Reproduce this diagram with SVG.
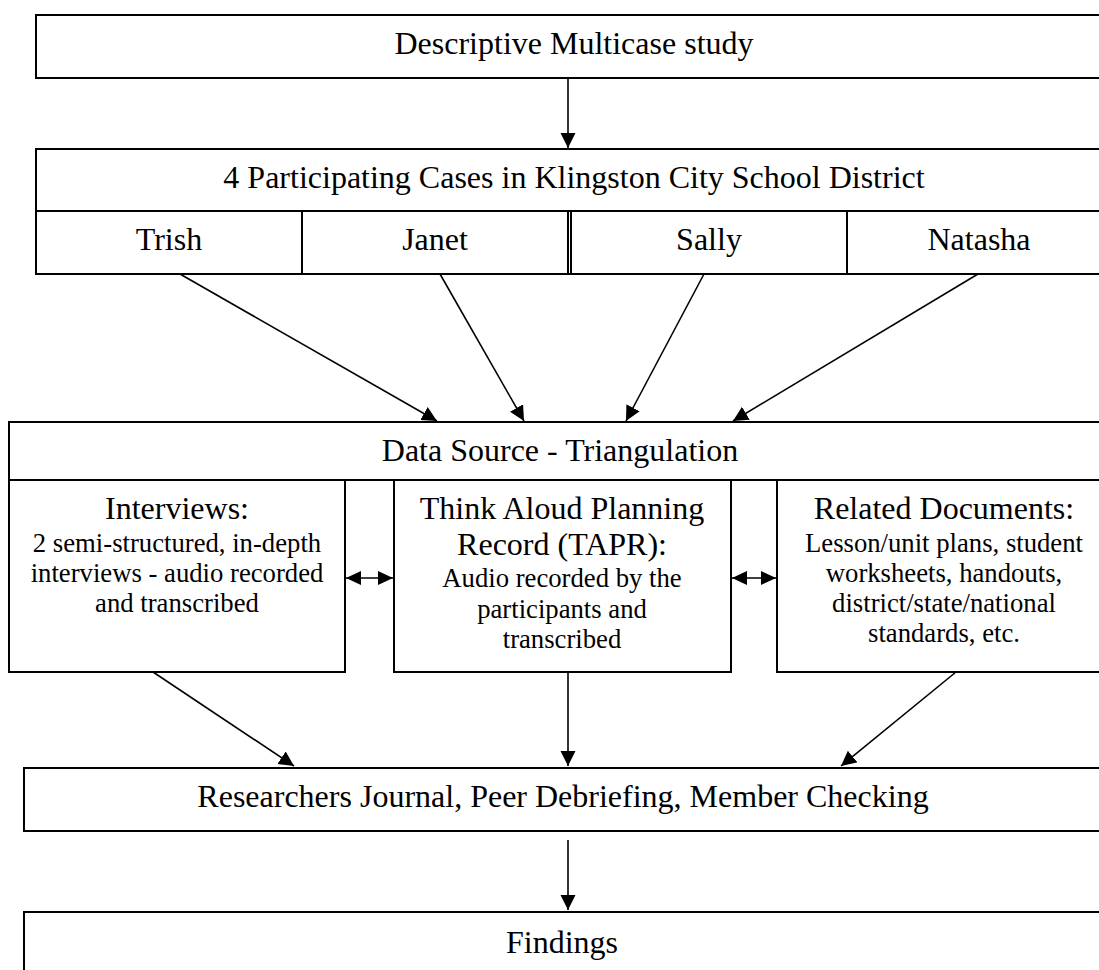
<svg xmlns="http://www.w3.org/2000/svg" width="1099" height="970" viewBox="0 0 1099 970">
<style>
.box{fill:#fff;stroke:#000;stroke-width:2}
.ln{stroke:#000;stroke-width:1.6;fill:none}
.t{font-family:"Liberation Serif","Times New Roman",serif;fill:#000;text-anchor:middle}
.h{font-size:32px}
.s{font-size:26.7px}
</style>
<defs>
<marker id="ah" markerUnits="userSpaceOnUse" markerWidth="16" markerHeight="16" refX="15" refY="7.5" orient="auto">
<path d="M0,0 L15,7.5 L0,15 z" fill="#000"/>
</marker>
<marker id="ahs" markerUnits="userSpaceOnUse" markerWidth="16" markerHeight="16" refX="15" refY="7" orient="auto-start-reverse">
<path d="M0,0 L15,7 L0,14 z" fill="#000"/>
</marker>
</defs>
<rect width="1099" height="970" fill="#fff"/>
<g id="study">
<rect class="box" x="36" y="15" width="1076" height="63"/>
<text class="t h" x="574" y="54">Descriptive Multicase study</text>
</g>
<g id="cases">
<rect class="box" x="36" y="149" width="1076" height="125"/>
<line class="ln" x1="36" y1="211" x2="1112" y2="211" style="stroke-width:2"/>
<text class="t h" x="574" y="188">4 Participating Cases in Klingston City School District</text>
</g>
<g id="trish">
<text class="t h" x="169" y="250">Trish</text>
</g>
<g id="janet">
<line class="ln" x1="302" y1="211" x2="302" y2="274" style="stroke-width:2"/>
<text class="t h" x="435" y="250">Janet</text>
</g>
<g id="sally">
<line class="ln" x1="568" y1="211" x2="568" y2="274" style="stroke-width:2"/>
<line class="ln" x1="571" y1="211" x2="571" y2="274" style="stroke-width:2"/>
<text class="t h" x="709" y="250">Sally</text>
</g>
<g id="natasha">
<line class="ln" x1="847" y1="211" x2="847" y2="274" style="stroke-width:2"/>
<text class="t h" x="979" y="250">Natasha</text>
</g>
<g id="datasource">
<rect class="box" x="9" y="422" width="1102" height="58"/>
<text class="t h" x="560" y="461">Data Source - Triangulation</text>
</g>
<g id="interviews">
<rect class="box" x="9" y="480" width="336" height="192"/>
<text class="t h" x="177" y="519">Interviews:</text>
<text class="t s" x="177" y="552">2 semi-structured, in-depth</text>
<text class="t s" x="177" y="582">interviews - audio recorded</text>
<text class="t s" x="177" y="612">and transcribed</text>
</g>
<g id="tapr">
<rect class="box" x="394" y="480" width="337" height="192"/>
<text class="t h" x="562" y="519">Think Aloud Planning</text>
<text class="t h" x="562" y="555">Record (TAPR):</text>
<text class="t s" x="562" y="587">Audio recorded by the</text>
<text class="t s" x="562" y="618">participants and</text>
<text class="t s" x="562" y="648">transcribed</text>
</g>
<g id="documents">
<rect class="box" x="777" y="480" width="334" height="192"/>
<text class="t h" x="944" y="519">Related Documents:</text>
<text class="t s" x="944" y="552">Lesson/unit plans, student</text>
<text class="t s" x="944" y="582">worksheets, handouts,</text>
<text class="t s" x="944" y="612">district/state/national</text>
<text class="t s" x="944" y="642">standards, etc.</text>
</g>
<g id="researchers">
<rect class="box" x="24" y="768" width="1078" height="63"/>
<text class="t h" x="563" y="807">Researchers Journal, Peer Debriefing, Member Checking</text>
</g>
<g id="findings">
<rect class="box" x="24" y="912" width="1078" height="70"/>
<text class="t h" x="562" y="953">Findings</text>
</g>
<g id="connectors">
<line class="ln" x1="568" y1="78" x2="568" y2="148" marker-end="url(#ah)"/>
<line class="ln" x1="180" y1="274" x2="437" y2="421" marker-end="url(#ah)"/>
<line class="ln" x1="440" y1="274" x2="524" y2="421" marker-end="url(#ah)"/>
<line class="ln" x1="704" y1="274" x2="626" y2="421" marker-end="url(#ah)"/>
<line class="ln" x1="978" y1="274" x2="733" y2="421" marker-end="url(#ah)"/>
<line class="ln" x1="346" y1="578" x2="393" y2="578" marker-start="url(#ahs)" marker-end="url(#ahs)"/>
<line class="ln" x1="732" y1="578" x2="776" y2="578" marker-start="url(#ahs)" marker-end="url(#ahs)"/>
<line class="ln" x1="153" y1="672" x2="294" y2="766" marker-end="url(#ah)"/>
<line class="ln" x1="568" y1="672" x2="568" y2="766" marker-end="url(#ah)"/>
<line class="ln" x1="956" y1="672" x2="841" y2="766" marker-end="url(#ah)"/>
<line class="ln" x1="568" y1="840" x2="568" y2="910" marker-end="url(#ah)"/>
</g>
</svg>
